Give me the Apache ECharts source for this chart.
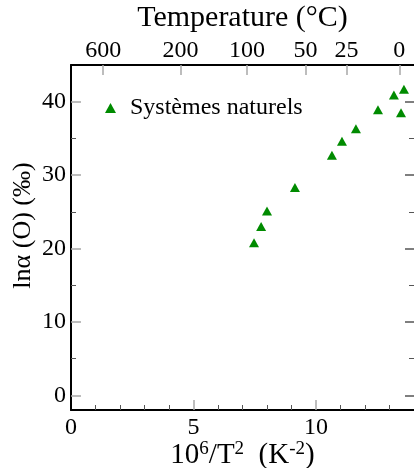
<!DOCTYPE html>
<html>
<head>
<meta charset="utf-8">
<script src="https://cdn.jsdelivr.net/npm/echarts@6/dist/echarts.min.js"></script>
<style>html,body{margin:0;padding:0;background:#fff}#c{width:414px;height:468px}</style>
</head>
<body>
<div id="c"></div>
<script>
// data: x = 10^6/T^2 (K^-2), y = ln alpha (O) (permil)
var xVals = [7.47, 7.76, 8.0, 9.14, 10.65, 11.06, 11.63, 12.53, 13.18, 13.59, 13.47];
var yVals = [20.8, 23.0, 25.1, 28.3, 32.7, 34.6, 36.3, 38.9, 40.9, 41.7, 38.5];
var seriesName = 'Systèmes naturels';
var tempTicks = [600, 200, 100, 50, 25, 0];          // top axis labels, °C
var xMajor = [0, 5, 10];
var xMinor = [1, 2, 3, 4, 6, 7, 8, 9, 11, 12, 13];
var yMajor = [0, 10, 20, 30, 40];
var yMinor = [5, 15, 25, 35];

var FONT = 'Liberation Serif';
var MAJ = '#a8a8a8', MIN = '#555';
function toX(t) { var k = t + 273.15; return 1e6 / (k * k); }
var tempPos = tempTicks.map(toX);

var pts = xVals.map(function (x, i) { return [x, yVals[i]]; });

var chart = echarts.init(document.getElementById('c'), null, {renderer: 'canvas'});
var baseX = {type: 'value', min: 0, max: 14, splitLine: {show: false}, nameMoveOverlap: false};
var baseY = {type: 'value', min: -2, max: 45, splitLine: {show: false}, nameMoveOverlap: false};
chart.setOption({
  animation: false,
  backgroundColor: '#fff',
  grid: {left: 71, right: 0, top: 65, bottom: 58, outerBoundsMode: 'none', containLabel: false},
  legend: {
    left: 100, top: 91, icon: 'triangle', itemWidth: 11, itemHeight: 10, itemGap: 0,
    textStyle: {fontFamily: FONT, fontSize: 24, color: '#000', padding: [0, 0, 0, 9]},
    data: [seriesName]
  },
  xAxis: [
    Object.assign({}, baseX, {
      position: 'bottom',
      name: '{m|10}{s|6}{m|/T}{s|2}{m|  (K}{s|-2}{m|)}', nameLocation: 'middle', nameGap: 30,
      nameTextStyle: {fontFamily: FONT, fontSize: 29, color: '#000',
        rich: {
          m: {fontFamily: FONT, fontSize: 29, lineHeight: 30, color: '#000', verticalAlign: 'bottom'},
          s: {fontFamily: FONT, fontSize: 19, lineHeight: 19, color: '#000', verticalAlign: 'top'}
        }},
      axisLine: {onZero: false, lineStyle: {color: '#000', width: 2}},
      axisTick: {inside: true, length: 10, lineStyle: {color: MAJ, width: 1.5}, customValues: [5, 10]},
      axisLabel: {customValues: xMajor, fontFamily: FONT, fontSize: 24, color: '#000', margin: 6}
    }),
    Object.assign({}, baseX, {
      position: 'bottom',
      axisLine: {show: false, onZero: false},
      axisTick: {inside: true, length: 5, lineStyle: {color: MIN, width: 1}, customValues: xMinor},
      axisLabel: {show: false}
    }),
    Object.assign({}, baseX, {
      position: 'top',
      name: 'Temperature (°C)', nameLocation: 'middle', nameGap: 32,
      nameTextStyle: {fontFamily: FONT, fontSize: 30, color: '#000'},
      axisLine: {onZero: false, lineStyle: {color: '#000', width: 2}},
      axisTick: {inside: true, length: 10, lineStyle: {color: MAJ, width: 1.5}, customValues: tempPos},
      axisLabel: {customValues: tempPos, fontFamily: FONT, fontSize: 24, color: '#000', margin: 2,
        formatter: function (v) { return String(Math.round(1000 / Math.sqrt(v) - 273.15)); }}
    })
  ],
  yAxis: [
    Object.assign({}, baseY, {
      position: 'left',
      name: 'lnα (O) (‰)', nameLocation: 'middle', nameGap: 35,
      nameTextStyle: {fontFamily: FONT, fontSize: 26, color: '#000', padding: [0, 0, 0, 24]},
      axisLine: {onZero: false, lineStyle: {color: '#000', width: 2}},
      axisTick: {inside: true, length: 10, lineStyle: {color: MAJ, width: 1.5}, customValues: yMajor},
      axisLabel: {customValues: yMajor, fontFamily: FONT, fontSize: 24, color: '#000', margin: 5}
    }),
    Object.assign({}, baseY, {
      position: 'left',
      axisLine: {show: false, onZero: false},
      axisTick: {inside: true, length: 5, lineStyle: {color: MIN, width: 1}, customValues: yMinor},
      axisLabel: {show: false}
    }),
    Object.assign({}, baseY, {
      position: 'right',
      axisLine: {show: false, onZero: false},
      axisTick: {inside: true, length: 9, lineStyle: {color: '#555', width: 1.5}, customValues: yMajor},
      axisLabel: {show: false}
    }),
    Object.assign({}, baseY, {
      position: 'right',
      axisLine: {show: false, onZero: false},
      axisTick: {inside: true, length: 5, lineStyle: {color: MIN, width: 1}, customValues: yMinor},
      axisLabel: {show: false}
    })
  ],
  series: [{
    name: seriesName, type: 'scatter', xAxisIndex: 0, yAxisIndex: 0,
    symbol: 'triangle', symbolSize: [10, 9],
    itemStyle: {color: '#008b00', opacity: 1},
    data: pts
  }]
});
</script>
</body>
</html>
